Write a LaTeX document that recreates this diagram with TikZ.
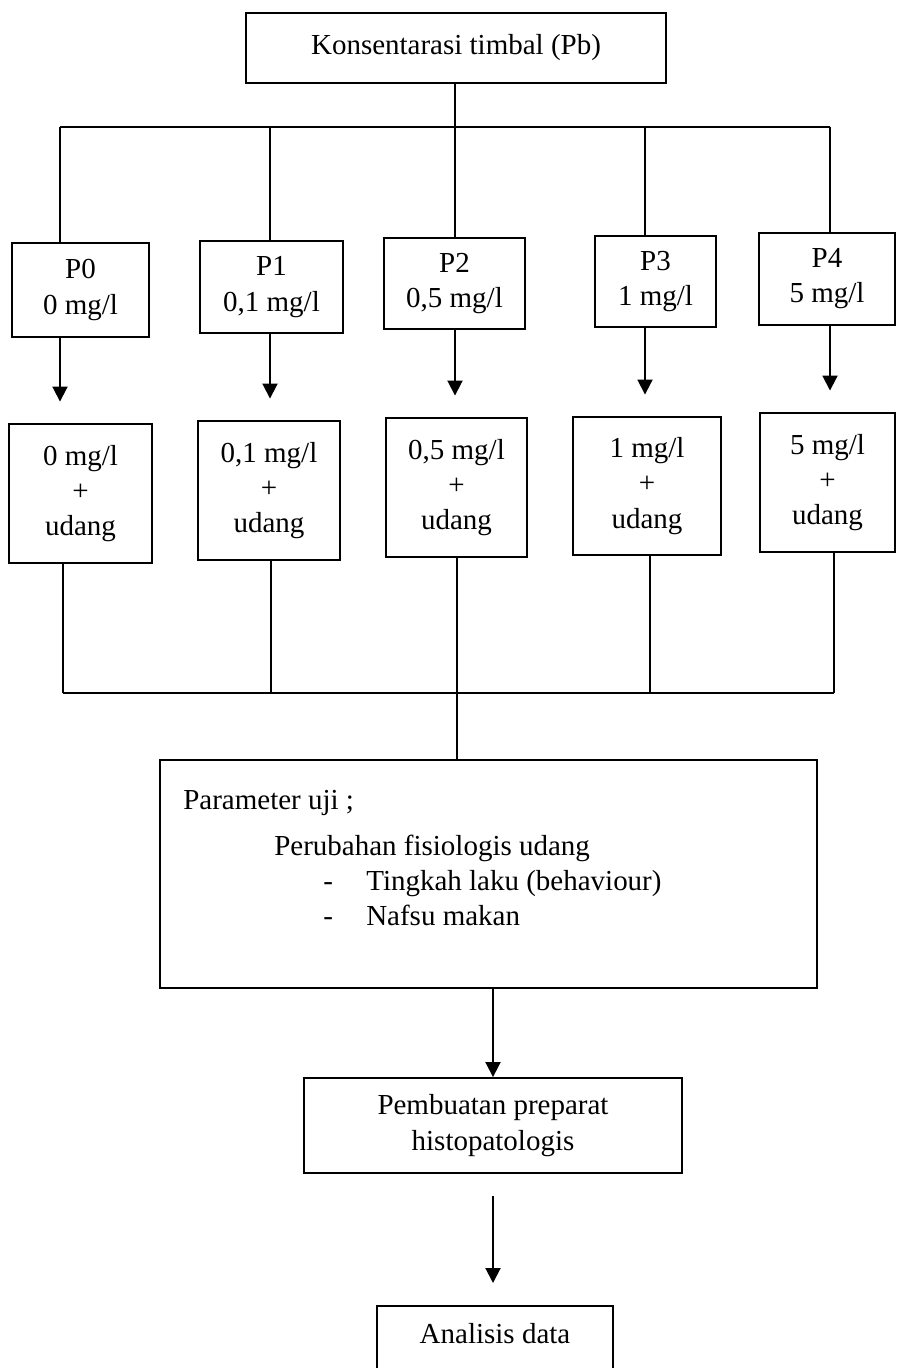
\documentclass[tikz,border=0pt]{standalone}
\usepackage{fontspec}
\setmainfont{Liberation Serif}
\usetikzlibrary{arrows.meta,positioning}

\begin{document}
\begin{tikzpicture}[
  x=0.02cm, y=-0.02cm,
  box/.style={draw, line width=1.1pt, align=center, inner sep=0pt, font=\fontsize{16.5}{20}\selectfont},
  link/.style={line width=1.1pt},
  arrow/.style={-{Triangle[length=3mm,width=3mm]}, line width=1.1pt}
]
\clip (0,0) rectangle (897,1368);

% top
\node[box, minimum width=8.4cm, minimum height=1.4cm] (konsentrasi) at (456,48) {Konsentarasi timbal (Pb)};

% treatments
\node[box, minimum width=2.74cm, minimum height=1.88cm] (p0) at (80.5,290) {P0\\0 mg/l};
\node[box, minimum width=2.86cm, minimum height=1.84cm] (p1) at (271.5,287) {P1\\0,1 mg/l};
\node[box, minimum width=2.82cm, minimum height=1.82cm] (p2) at (454.5,283.5) {P2\\0,5 mg/l};
\node[box, minimum width=2.42cm, minimum height=1.82cm] (p3) at (655.5,281.5) {P3\\1 mg/l};
\node[box, minimum width=2.72cm, minimum height=1.84cm] (p4) at (827,279) {P4\\5 mg/l};

\node[box, minimum width=2.86cm, minimum height=2.78cm] (u0) at (80.5,493.5) {0 mg/l\\+\\udang};
\node[box, minimum width=2.84cm, minimum height=2.78cm] (u1) at (269,490.5) {0,1 mg/l\\+\\udang};
\node[box, minimum width=2.82cm, minimum height=2.78cm] (u2) at (456.5,487.5) {0,5 mg/l\\+\\udang};
\node[box, minimum width=2.96cm, minimum height=2.76cm] (u3) at (647,486) {1 mg/l\\+\\udang};
\node[box, minimum width=2.70cm, minimum height=2.78cm] (u4) at (827.5,482.5) {5 mg/l\\+\\udang};

% parameter
\node[box, minimum width=13.14cm, minimum height=4.56cm] (param) at (488.5,874) {};
\node[anchor=north west, align=left, inner sep=0pt, font=\fontsize{16.5}{20}\selectfont] (paramtext) at (183,790)
  {Parameter uji ;\\[0.22cm]
   \hspace*{1.82cm}Perubahan fisiologis udang\\
   \hspace*{2.8cm}\makebox[0.86cm][l]{-}Tingkah laku (behaviour)\\
   \hspace*{2.8cm}\makebox[0.86cm][l]{-}Nafsu makan};

\node[box, minimum width=7.56cm, minimum height=1.9cm] (preparat) at (493,1125.5) {Pembuatan preparat\\histopatologis};
\node[box, anchor=north, minimum width=4.72cm, text height=0.76cm, text depth=1.5cm] (analisis) at (495,1305) {Analisis data};

% bus lines
\coordinate (hub) at (455,127);
\coordinate (hubl) at (60,127);
\coordinate (hubr) at (830,127);
\coordinate (sum) at (457,693);
\coordinate (suml) at (63,693);
\coordinate (sumr) at (834,693);

\draw[link] (konsentrasi.south -| hub) -- (hub);
\draw[link] (hubl) -- (hubr);
\foreach \i/\x in {0/60, 1/270, 2/455, 3/645, 4/830} {
  \draw[link] (\x,127) -- (\x,127 |- p\i.north);
  \draw[arrow, shorten >=0.43cm] (\x,127 |- p\i.south) -- (\x,127 |- u\i.north);
}
\foreach \i/\x in {0/63, 1/271, 2/457, 3/650, 4/834} {
  \draw[link] (\x,693 |- u\i.south) -- (\x,693);
}
\draw[link] (suml) -- (sumr);
\draw[link] (sum) -- (sum |- param.north);
\draw[arrow] (param.south -| preparat.north) -- (preparat.north);
\draw[arrow, shorten <=0.44cm, shorten >=0.44cm] (preparat.south) -- (preparat.south |- analisis.north);
\end{tikzpicture}
\end{document}
